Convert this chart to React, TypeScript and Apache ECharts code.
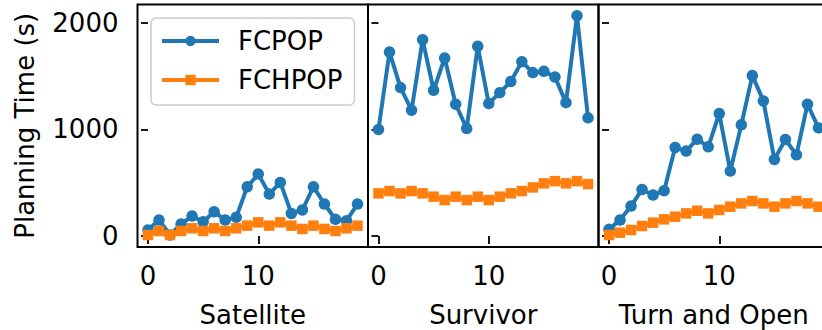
import React, { useEffect, useRef } from "react";
import * as echarts from "echarts";

const panels = ["Satellite", "Survivor", "Turn and Open"];
const seriesNames = ["FCPOP", "FCHPOP"];
const yTicks = [0, 1000, 2000];
const xTicks = [0, 10];

const satelliteFCPOP = [56, 150, 10, 112, 187, 134, 228, 150, 175, 462, 581, 394, 503, 212, 244, 462, 300, 156, 144, 300];
const satelliteFCHPOP = [9, 47, 9, 47, 72, 47, 72, 47, 72, 97, 128, 97, 128, 97, 66, 97, 66, 47, 72, 97];
const survivorFCPOP = [1000, 1727, 1393, 1181, 1843, 1368, 1671, 1237, 1009, 1781, 1243, 1346, 1450, 1637, 1534, 1546, 1493, 1252, 2068, 1109];
const survivorFCHPOP = [400, 422, 400, 422, 400, 369, 337, 369, 337, 369, 337, 369, 400, 422, 456, 494, 515, 494, 515, 487];
const turnFCPOP = [62, 150, 281, 437, 384, 425, 831, 797, 909, 837, 1150, 609, 1044, 1506, 1268, 719, 906, 762, 1237, 1015];
const turnFCHPOP = [9, 31, 56, 94, 125, 156, 181, 212, 237, 212, 244, 275, 306, 328, 306, 275, 306, 328, 306, 275];

const panelData = [
  [satelliteFCPOP, satelliteFCHPOP],
  [survivorFCPOP, survivorFCHPOP],
  [turnFCPOP, turnFCHPOP],
];

const BLUE = "#1f77b4";
const ORANGE = "#ff7f0e";
const FONT = "DejaVu Sans";
const LINE_W = 4;

export default function App() {
  const ref = useRef<HTMLDivElement>(null);
  useEffect(() => {
    if (!ref.current) return;
    const chart = echarts.init(ref.current, undefined, { renderer: "svg" });
    const gridLeft0 = 137.5;
    const gridW = 230.5;
    const grids = panels.map((_, k) => ({
      left: gridLeft0 + k * gridW,
      top: 4.5,
      width: gridW,
      height: 242.5,
      outerBoundsMode: "none",
      containLabel: false,
      show: true,
      borderColor: "#000",
      borderWidth: 2,
      backgroundColor: "transparent",
    }));
    const xAxes = panels.map((name, k) => ({
      type: "value",
      gridIndex: k,
      min: -0.95,
      max: 19.95,
      name,
      nameLocation: "middle",
      nameGap: 55,
      nameTextStyle: { fontFamily: FONT, fontSize: 26, color: "#000" },
      axisLine: { show: false },
      splitLine: { show: false },
      axisTick: {
        show: true,
        inside: false,
        length: 8,
        lineStyle: { color: "#000", width: 1.8 },
        customValues: xTicks,
      },
      axisLabel: {
        show: true,
        margin: 16,
        fontFamily: FONT,
        fontSize: 26,
        color: "#000",
        customValues: xTicks,
        formatter: (v: number) => String(v),
      },
    }));
    const yAxes = panels.map((_, k) => ({
      type: "value",
      gridIndex: k,
      min: -103.5,
      max: 2173.5,
      name: k === 0 ? "Planning Time (s)" : "",
      nameLocation: "middle",
      nameGap: 100,
      nameTextStyle: { fontFamily: FONT, fontSize: 26, color: "#000" },
      axisLine: { show: false },
      splitLine: { show: false },
      axisTick: {
        show: true,
        inside: false,
        length: 7,
        lineStyle: { color: "#000", width: 1.8 },
        customValues: yTicks,
      },
      axisLabel: {
        show: k === 0,
        margin: 19,
        fontFamily: FONT,
        fontSize: 26,
        color: "#000",
        customValues: yTicks,
        formatter: (v: number) => String(v),
      },
    }));
    const series: any[] = [];
    panelData.forEach((pair, k) => {
      pair.forEach((vals, s) => {
        const color = s === 0 ? BLUE : ORANGE;
        series.push({
          type: "line",
          name: seriesNames[s],
          xAxisIndex: k,
          yAxisIndex: k,
          data: vals.map((v, i) => [i, v]),
          symbol: s === 0 ? "circle" : "rect",
          symbolSize: s === 0 ? 11.5 : 10.5,
          showAllSymbol: true,
          color,
          lineStyle: { color, width: LINE_W, opacity: 1 },
          itemStyle: { color, borderWidth: 0 },
          emphasis: { disabled: true },
          z: 2 + s,
        });
      });
    });
    chart.setOption({
      animation: false,
      textStyle: { fontFamily: FONT },
      grid: grids,
      xAxis: xAxes,
      yAxis: yAxes,
      series,
      legend: {
        data: seriesNames,
        orient: "vertical",
        left: 151,
        top: 18,
        itemWidth: 57,
        itemHeight: 13,
        itemGap: 9,
        padding: [8, 12, 10, 9],
        borderColor: "#cccccc",
        borderWidth: 1.5,
        borderRadius: 5,
        backgroundColor: "rgba(255,255,255,0.8)",
        lineStyle: { width: LINE_W },
        textStyle: {
          fontFamily: FONT,
          fontSize: 26,
          color: "#000",
          lineHeight: 30,
          padding: [0, 0, 0, 14],
        },
      },
    });
    return () => chart.dispose();
  }, []);
  return (
    <div style={{ position: "absolute", left: 0, top: 0, width: 822, height: 330, overflow: "hidden" }}>
      <div ref={ref} style={{ width: 840, height: 330 }} />
    </div>
  );
}
